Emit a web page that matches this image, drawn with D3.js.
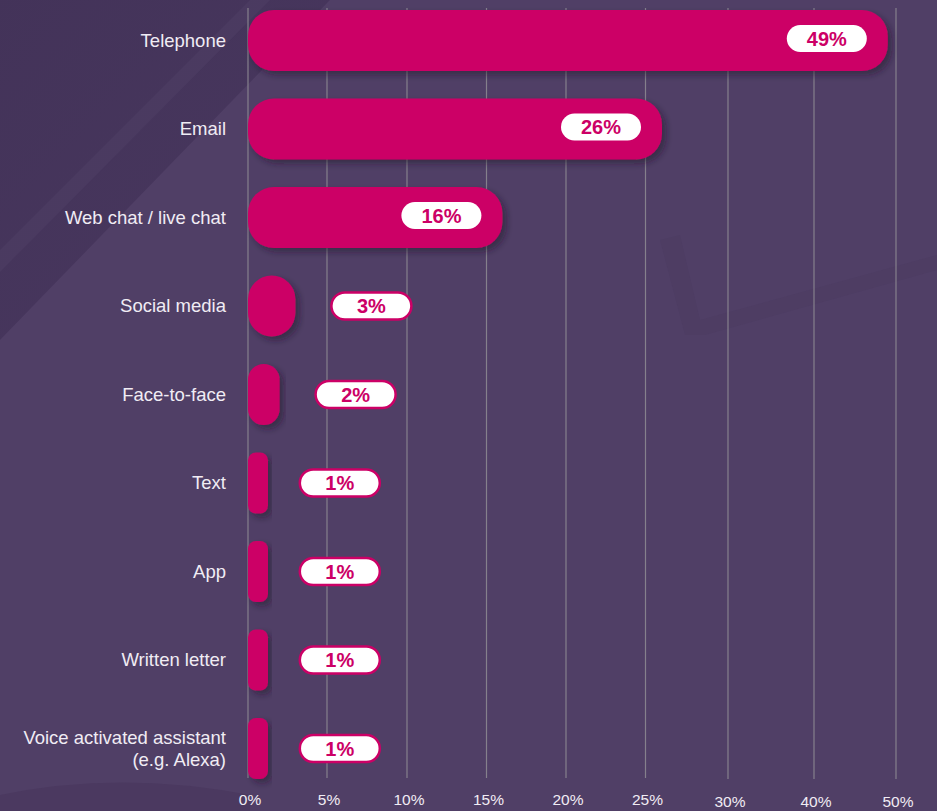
<!DOCTYPE html>
<html>
<head>
<meta charset="utf-8">
<script src="https://cdn.jsdelivr.net/npm/d3@7"></script>
<style>
  body { margin: 0; background: #503f66; }
  svg { display: block; font-family: Arial, "Liberation Sans", sans-serif; }
</style>
</head>
<body>
<div id="chart"></div>
<script>
// channels used to contact customer service (%)
var categories = ['Telephone', 'Email', 'Web chat / live chat', 'Social media', 'Face-to-face',
                  'Text', 'App', 'Written letter', 'Voice activated assistant\n(e.g. Alexa)'];
var values = [49, 26, 16, 3, 2, 1, 1, 1, 1];
var tickValues = [0, 5, 10, 15, 20, 25, 30, 40, 50];
var tickLabels = ['0%', '5%', '10%', '15%', '20%', '25%', '30%', '40%', '50%'];

var width = 937, height = 811;
var pink = '#cc0066';

var svg = d3.select('#chart').append('svg')
	.attr('width', width).attr('height', height);

var defs = svg.append('defs');
defs.append('filter').attr('id', 'shadow')
	.attr('x', '-20%').attr('y', '-30%').attr('width', '140%').attr('height', '160%')
  .append('feDropShadow')
	.attr('dx', 4).attr('dy', 4).attr('stdDeviation', 3)
	.attr('flood-color', '#1a0f26').attr('flood-opacity', 0.5);

var bgGrad = defs.append('linearGradient').attr('id', 'bgdark')
	.attr('x1', 0).attr('y1', 0).attr('x2', 1).attr('y2', 1);
bgGrad.append('stop').attr('offset', '0%').attr('stop-color', '#3f2f55');
bgGrad.append('stop').attr('offset', '100%').attr('stop-color', '#46355c');

// background
svg.append('rect').attr('width', width).attr('height', height).attr('fill', '#503f66');
svg.append('path').attr('d', 'M0,0 L330,0 L0,340 Z').attr('fill', 'url(#bgdark)').attr('opacity', 0.75);
svg.append('path').attr('d', 'M0,250 L250,0 L270,0 L0,272 Z').attr('fill', '#504066').attr('opacity', 0.5);
svg.append('path').attr('d', 'M0,811 L0,795 Q120,770 250,795 L250,811 Z').attr('fill', '#47365c').attr('opacity', 0.6);
svg.append('path').attr('d', 'M660,240 L680,235 L700,320 L937,255 L937,270 L705,335 L685,335 Z')
	.attr('fill', '#47365c').attr('opacity', 0.25);

// piecewise scale following the axis labels (evenly spaced gridlines)
var x = d3.scaleLinear()
	.domain(tickValues)
	.range([248, 327, 407, 486.5, 566, 645.5, 728, 814, 896]);

var y = d3.scaleBand()
	.domain(categories)
	.range([10, 779])
	.paddingInner(0.31)
	.paddingOuter(0);

// gridlines
svg.append('g').selectAll('line')
	.data(tickValues)
	.enter().append('line')
	.attr('x1', function(d) { return x(d); })
	.attr('x2', function(d) { return x(d); })
	.attr('y1', 8)
	.attr('y2', function(d) { return d >= 30 ? 779 : 778; })
	.attr('stroke', '#85808c')
	.attr('stroke-width', 1.2);

// x axis labels
svg.append('g').selectAll('text')
	.data(tickValues)
	.enter().append('text')
	.attr('x', function(d) { return x(d) + 2; })
	.attr('y', function(d) { return d >= 30 ? 807 : 805; })
	.attr('text-anchor', 'middle')
	.attr('fill', '#f0ecf4')
	.style('font-size', '15.5px')
	.text(function(d, i) { return tickLabels[i]; });

var rows = categories.map(function(c, i) { return { cat: c, value: values[i] }; });

// bars
var bh = y.bandwidth();
svg.append('g').selectAll('rect')
	.data(rows)
	.enter().append('rect')
	.attr('x', x(0))
	.attr('y', function(d) { return y(d.cat); })
	.attr('width', function(d) { return Math.max(x(d.value) - x(0), 20); })
	.attr('height', bh)
	.attr('rx', function(d) { return Math.min(bh / 2, (x(d.value) - x(0)) / 2, 26); })
	.attr('fill', pink)
	.attr('filter', 'url(#shadow)');

// category labels
var lab = svg.append('g').selectAll('text')
	.data(rows)
	.enter().append('text')
	.attr('x', 226)
	.attr('y', function(d) { return y(d.cat) + bh / 2; })
	.attr('text-anchor', 'end')
	.attr('fill', '#f0ecf4')
	.style('font-size', '18.5px');

lab.each(function(d) {
	var lines = d.cat.split('\n');
	var t = d3.select(this);
	lines.forEach(function(l, i) {
		t.append('tspan')
			.attr('x', 226)
			.attr('dy', i === 0 ? (0.35 - (lines.length - 1) * 0.57) + 'em' : '1.15em')
			.text(l);
	});
});

// value pills
var pw = 80, ph = 27;
var inside = function(d) { return d.value >= 10; };
var pill = svg.append('g').selectAll('g')
	.data(rows)
	.enter().append('g')
	.attr('transform', function(d) {
		var cx = inside(d) ? x(d.value) - 21 - pw / 2 : x(d.value) + 76;
		return 'translate(' + cx + ',' + (y(d.cat) + bh / 2 - (inside(d) ? 2 : 0)) + ')';
	});

pill.append('rect')
	.attr('x', -pw / 2)
	.attr('y', -ph / 2)
	.attr('width', pw)
	.attr('height', ph)
	.attr('rx', ph / 2)
	.attr('fill', '#fff')
	.attr('stroke', pink)
	.attr('stroke-width', function(d) { return inside(d) ? 0 : 2.5; });

pill.append('text')
	.attr('text-anchor', 'middle')
	.attr('dy', '0.36em')
	.attr('fill', pink)
	.style('font-size', '20px')
	.style('font-weight', 'bold')
	.text(function(d) { return d.value + '%'; });
</script>
</body>
</html>
